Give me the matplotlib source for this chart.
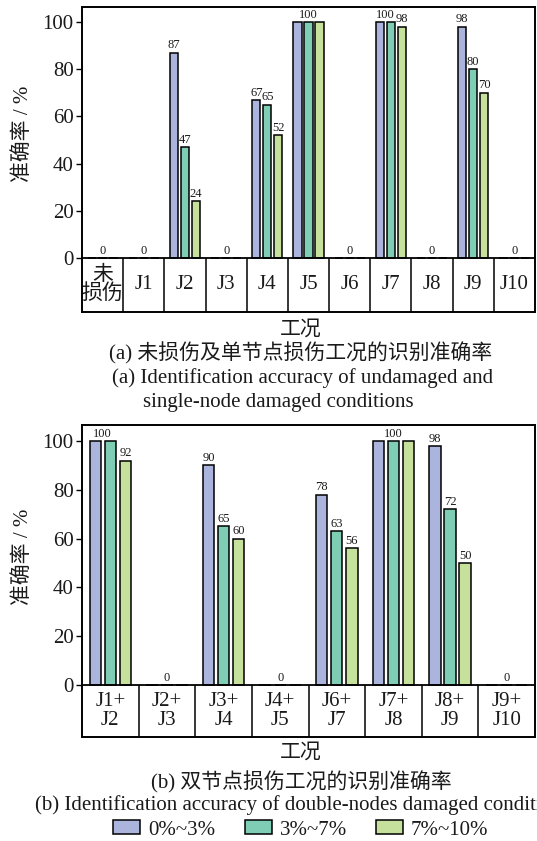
import numpy as np
import matplotlib
matplotlib.use('Agg')
import matplotlib.pyplot as plt
from matplotlib.patches import Patch

plt.rcParams['font.family'] = ['Liberation Serif', 'Noto Sans CJK SC']
plt.rcParams['axes.unicode_minus'] = False

# identification accuracy (%), three damage-degree ranges
series_names = ['0%~3%', '3%~7%', '7%~10%']
series_colors = ['#aab4dc', '#80cdb6', '#c6e19b']

cats_a = ['未\n损伤', 'J1', 'J2', 'J3', 'J4', 'J5', 'J6', 'J7', 'J8', 'J9', 'J10']
a_low = [0, 0, 87, 0, 67, 100, 0, 100, 0, 98, 0]
a_mid = [0, 0, 47, 0, 65, 100, 0, 100, 0, 80, 0]
a_high = [0, 0, 24, 0, 52, 100, 0, 98, 0, 70, 0]

cats_b = ['J1+\nJ2', 'J2+\nJ3', 'J3+\nJ4', 'J4+\nJ5', 'J6+\nJ7', 'J7+\nJ8', 'J8+\nJ9', 'J9+\nJ10']
b_low = [100, 0, 90, 0, 78, 100, 98, 0]
b_mid = [100, 0, 65, 0, 63, 100, 72, 0]
b_high = [92, 0, 60, 0, 56, 100, 50, 0]

TXT = '#1a1a1a'
bar_w = 0.2
step = 0.266


def draw_panel(ax, cats, groups, ylo, yhi):
    n = len(cats)
    x = np.arange(n)
    offsets = [-step, 0, step]
    for vals, off, col in zip(groups, offsets, series_colors):
        ax.bar(x + off, vals, width=bar_w, color=col, edgecolor='black',
               linewidth=1.1, zorder=3)
    # value labels; equal neighbouring values share one label
    for i in range(n):
        vals = [g[i] for g in groups]
        j = 0
        while j < 3:
            k = j
            while k + 1 < 3 and vals[k + 1] == vals[j]:
                k += 1
            xc = i + (offsets[j] + offsets[k]) / 2
            ax.annotate(f'{vals[j]:g}', (xc, vals[j]), xytext=(0, 1),
                        textcoords='offset points', ha='center', va='bottom',
                        fontsize=9, color=TXT)
            j = k + 1
    # category table under the zero line
    ax.axhline(0, color='black', lw=1.3, zorder=4)
    ax.vlines(x[1:] - 0.5, ylo, 0, color='black', lw=1.1)
    for i, c in enumerate(cats):
        ax.text(i, ylo / 2, c, ha='center', va='center', fontsize=15,
                linespacing=0.95, color=TXT)
    ax.set_xlim(-0.5, n - 0.5)
    ax.set_ylim(ylo, yhi)
    ax.set_xticks([])
    ax.set_yticks(range(0, 101, 20))
    ax.tick_params(axis='y', direction='out', length=4, width=1,
                   labelsize=15, labelcolor=TXT, pad=2)
    for s in ax.spines.values():
        s.set_linewidth(1.4)
    ax.set_ylabel('准确率 / %', fontsize=15, color=TXT)


fig = plt.figure(figsize=(5.37, 8.41), dpi=100)

ax1 = fig.add_axes([0.1527, 0.6296, 0.8436, 0.3621])
draw_panel(ax1, cats_a, [a_low, a_mid, a_high], -22.7, 106.4)
ax1.yaxis.set_label_coords(-0.108, 0.583)

ax2 = fig.add_axes([0.1527, 0.1237, 0.8436, 0.3710])
draw_panel(ax2, cats_b, [b_low, b_mid, b_high], -21.3, 106.6)
ax2.yaxis.set_label_coords(-0.108, 0.577)

# captions
cap = dict(fontsize=15, color=TXT)
fig.text(301 / 537, 1 - 330 / 841, '工况', ha='center', va='center', **cap)
fig.text(301 / 537, 1 - 353 / 841, '(a) 未损伤及单节点损伤工况的识别准确率',
         ha='center', va='center', **cap)
fig.text(112 / 537, 1 - 378 / 841, '(a) Identification accuracy of undamaged and',
         ha='left', va='center', **cap)
fig.text(143 / 537, 1 - 402 / 841, 'single-node damaged conditions',
         ha='left', va='center', **cap)

fig.text(301 / 537, 1 - 753 / 841, '工况', ha='center', va='center', **cap)
fig.text(301 / 537, 1 - 782 / 841, '(b) 双节点损伤工况的识别准确率',
         ha='center', va='center', **cap)
fig.text(35 / 537, 1 - 805 / 841, '(b) Identification accuracy of double-nodes damaged conditions',
         ha='left', va='center', **cap)

handles = [Patch(facecolor=c, edgecolor='black', linewidth=1.1) for c in series_colors]
fig.legend(handles, series_names, loc='center', bbox_to_anchor=(301 / 537, 1 - 830 / 841),
           ncol=3, frameon=False, fontsize=15, handlelength=1.3, handleheight=0.62,
           handletextpad=0.38, columnspacing=1.4, borderpad=0, borderaxespad=0,
           labelcolor=TXT)

fig.savefig('out.png', dpi=100)
